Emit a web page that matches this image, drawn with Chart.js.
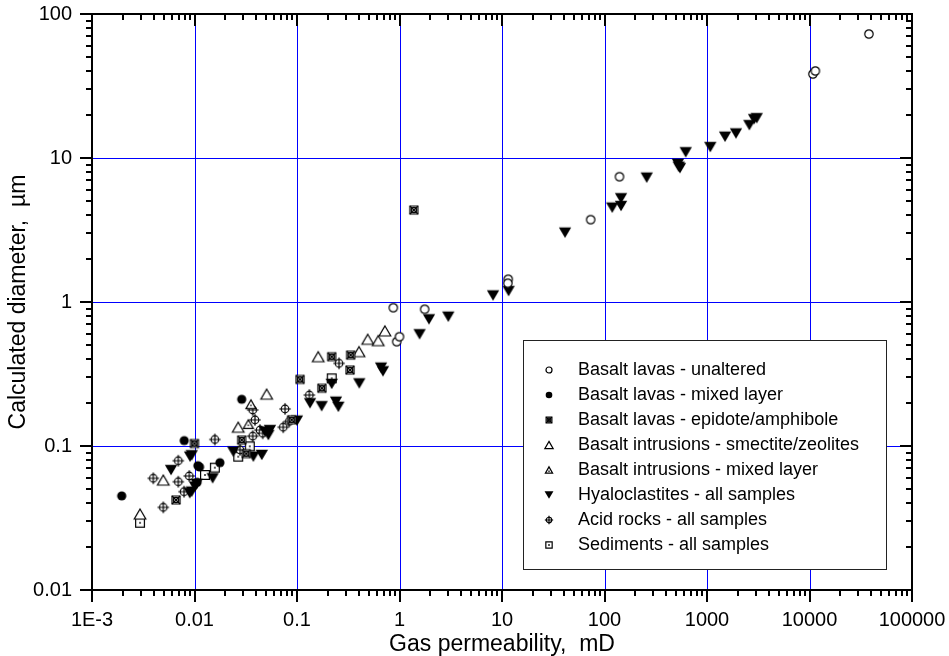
<!DOCTYPE html>
<html>
<head>
<meta charset="utf-8">
<script src="https://cdn.jsdelivr.net/npm/chart.js@4.4.0/dist/chart.umd.min.js"></script>
<style>
  html, body { margin: 0; padding: 0; background: #fff; }
  #wrap { width: 949px; height: 656px; }
</style>
</head>
<body>
<div id="wrap"><canvas id="chart"></canvas></div>
<script>
// series names (legend order)
const seriesNames = [
  "Basalt lavas - unaltered",
  "Basalt lavas - mixed layer",
  "Basalt lavas - epidote/amphibole",
  "Basalt intrusions - smectite/zeolites",
  "Basalt intrusions - mixed layer",
  "Hyaloclastites - all samples",
  "Acid rocks - all samples",
  "Sediments - all samples"
];

// data (x = gas permeability mD, y = calculated diameter µm)
const unalteredX = [0.87, 0.94, 1.0, 1.76, 11.5, 11.4, 73.3, 140, 10800, 11400, 38000];
const unalteredY = [0.913, 0.53, 0.574, 0.89, 1.44, 1.35, 3.73, 7.41, 38.3, 40.2, 72.6];

const mixedLavaX = [0.00195, 0.00794, 0.0108, 0.0112, 0.0106, 0.0177, 0.0289];
const mixedLavaY = [0.045, 0.109, 0.073, 0.0715, 0.056, 0.0766, 0.211];

const epidoteX = [0.0066, 0.01, 0.0289, 0.032, 0.0887, 0.107, 0.175, 0.218, 0.329, 0.334, 1.38];
const epidoteY = [0.0422, 0.104, 0.110, 0.0885, 0.152, 0.29, 0.252, 0.417, 0.337, 0.428, 4.35];

const smectiteX = [0.00294, 0.00496, 0.0267, 0.0506, 0.161, 0.403, 0.49, 0.62, 0.72];
const smectiteY = [0.0337, 0.058, 0.135, 0.229, 0.417, 0.452, 0.551, 0.539, 0.63];

const mixedIntrX = [0.0335, 0.0355];
const mixedIntrY = [0.142, 0.195];

const hyaloX = [0.0059, 0.00904, 0.0094, 0.0105, 0.0101, 0.0094, 0.009, 0.01503, 0.0239, 0.0375,
  0.0453, 0.0487, 0.0545, 0.0525, 0.1, 0.134, 0.174, 0.24, 0.253, 0.218, 0.405, 0.66, 0.69,
  1.57, 1.94, 2.99, 8.17, 11.6, 41.2, 119, 145, 145, 258, 520, 530, 545, 620, 1077, 1500,
  1918, 2588, 2875, 3054];
const hyaloY = [0.068, 0.0843, 0.0862, 0.0545, 0.0522, 0.0482, 0.047, 0.0597, 0.0913, 0.0843,
  0.0866, 0.126, 0.129, 0.119, 0.15, 0.198, 0.189, 0.203, 0.187, 0.27, 0.272, 0.35, 0.33,
  0.597, 0.758, 0.79, 1.11, 1.19, 3.03, 4.52, 4.64, 5.25, 7.3, 9.1, 8.7, 8.5, 10.96, 11.9, 14.06,
  14.8, 16.9, 18.6, 18.9];

const acidX = [0.00396, 0.00496, 0.00695, 0.00695, 0.0079, 0.0089, 0.0158, 0.0278, 0.037, 0.037,
  0.0389, 0.0435, 0.0463, 0.0734, 0.0764, 0.084, 0.132, 0.257];
const acidY = [0.0597, 0.0375, 0.079, 0.0565, 0.0482, 0.0619, 0.111, 0.094, 0.178, 0.117,
  0.152, 0.129, 0.1225, 0.135, 0.181, 0.148, 0.226, 0.375];

const sedimentX = [0.00294, 0.01266, 0.0158, 0.0267, 0.0346, 0.218];
const sedimentY = [0.0293, 0.0629, 0.0707, 0.0843, 0.0995, 0.295];

// tick labels
const xTickValues = [0.001, 0.01, 0.1, 1, 10, 100, 1000, 10000, 100000];
const xTickLabels = ["1E-3", "0.01", "0.1", "1", "10", "100", "1000", "10000", "100000"];
const yTickValues = [0.01, 0.1, 1, 10, 100];
const yTickLabels = ["0.01", "0.1", "1", "10", "100"];

const FONT = "'Liberation Sans', Arial, sans-serif";

// ---- marker pictures ----
function makeMarker(kind, s) {
  const size = Math.ceil(16 * s) + 2;
  const c = document.createElement("canvas");
  c.width = size; c.height = size;
  const g = c.getContext("2d");
  const m = size / 2;
  g.strokeStyle = "#000";
  g.fillStyle = "#000";
  g.lineWidth = 1.2;
  g.beginPath();
  if (kind == "circleOpen") {
    g.arc(m, m, 4.2 * s, 0, Math.PI * 2);
    g.fillStyle = "#fff"; g.fill(); g.stroke();
  } else if (kind == "circleFilled") {
    g.arc(m, m, 4.6 * s, 0, Math.PI * 2);
    g.fill();
  } else if (kind == "epidote") {
    const h = 4 * s;
    g.fillStyle = "#fff";
    g.rect(m - h, m - h, 2 * h, 2 * h); g.fill(); g.stroke();
    g.beginPath();
    g.moveTo(m - h, m - h); g.lineTo(m + h, m + h);
    g.moveTo(m + h, m - h); g.lineTo(m - h, m + h);
    g.stroke();
    g.beginPath(); g.arc(m, m, 2.6 * s, 0, Math.PI * 2); g.stroke();
  } else if (kind == "triOpen" || kind == "triMixed") {
    const w = (kind == "triOpen" ? 5.8 : 5.0) * s;
    const hh = (kind == "triOpen" ? 5.0 : 4.4) * s;
    g.moveTo(m, m - hh); g.lineTo(m + w, m + hh); g.lineTo(m - w, m + hh); g.closePath();
    g.fillStyle = "#fff"; g.fill(); g.stroke();
    if (kind == "triMixed") {
      g.fillStyle = "#000";
      g.fillRect(m - 0.7, m + 0.5, 1.4, 1.4);
    }
  } else if (kind == "triDown") {
    const w = 6.2 * s, hh = 5.2 * s;
    g.moveTo(m - w, m - hh); g.lineTo(m + w, m - hh); g.lineTo(m, m + hh); g.closePath();
    g.fill();
  } else if (kind == "acid") {
    const r = 3.8 * s, l = 5.8 * s;
    g.arc(m, m, r, 0, Math.PI * 2);
    g.fillStyle = "#fff"; g.fill(); g.stroke();
    g.beginPath();
    g.moveTo(m - l, m); g.lineTo(m + l, m);
    g.moveTo(m, m - l); g.lineTo(m, m + l);
    g.stroke();
  } else if (kind == "sediment") {
    const h = 4.4 * s;
    g.rect(m - h, m - h, 2 * h, 2 * h);
    g.fillStyle = "#fff"; g.fill(); g.stroke();
    g.fillStyle = "#000";
    g.fillRect(m - 0.8, m - 0.8, 1.6, 1.6);
  }
  return c;
}

const markerKinds = ["circleOpen", "circleFilled", "epidote", "triOpen", "triMixed", "triDown", "acid", "sediment"];
const seriesX = [unalteredX, mixedLavaX, epidoteX, smectiteX, mixedIntrX, hyaloX, acidX, sedimentX];
const seriesY = [unalteredY, mixedLavaY, epidoteY, smectiteY, mixedIntrY, hyaloY, acidY, sedimentY];

const datasets = seriesNames.map((name, k) => ({
  label: name,
  data: seriesX[k].map((x, i) => ({ x: x, y: seriesY[k][i] })),
  pointStyle: makeMarker(markerKinds[k], 1),
  legendMarker: makeMarker(markerKinds[k], 0.72),
  pointRadius: 5,
  showLine: false
}));

// every tick 1..9 x 10^n between min and max
function logTicks(min, max) {
  const out = [];
  for (let e = Math.round(Math.log10(min)); e < Math.round(Math.log10(max)); e++) {
    for (let d = 1; d < 10; d++) out.push(d * Math.pow(10, e));
  }
  out.push(max);
  return out;
}
function isMajor(v) {
  const l = Math.log10(v);
  return Math.abs(l - Math.round(l)) < 1e-6;
}
function labelFor(v, values, labels) {
  const i = values.findIndex(t => Math.abs(t - v) / t < 1e-6);
  return i >= 0 ? labels[i] : "";
}

// blue grid lines at the decades, under the points
const gridPlugin = {
  id: "decadeGrid",
  beforeDatasetsDraw(chart) {
    const ctx = chart.ctx;
    const a = chart.chartArea;
    const xs = chart.scales.x, ys = chart.scales.y;
    ctx.save();
    ctx.strokeStyle = "#0000ff";
    ctx.lineWidth = 1;
    ctx.beginPath();
    xTickValues.slice(1, -1).forEach(v => {
      const px = Math.round(xs.getPixelForValue(v)) + 0.5;
      ctx.moveTo(px, a.top); ctx.lineTo(px, a.bottom);
    });
    yTickValues.slice(1, -1).forEach(v => {
      const py = Math.round(ys.getPixelForValue(v)) + 0.5;
      ctx.moveTo(a.left, py); ctx.lineTo(a.right, py);
    });
    ctx.stroke();
    ctx.restore();
  }
};

// frame, tick marks on all four sides and the legend box
const framePlugin = {
  id: "frame",
  afterDraw(chart) {
    const ctx = chart.ctx;
    const a = chart.chartArea;
    const xs = chart.scales.x, ys = chart.scales.y;
    ctx.save();
    ctx.strokeStyle = "#000";
    ctx.lineWidth = 2;
    ctx.beginPath();
    xs.ticks.forEach(t => {
      const px = Math.round(xs.getPixelForValue(t.value));
      const len = isMajor(t.value) ? 12 : 6;
      ctx.moveTo(px, a.bottom); ctx.lineTo(px, a.bottom + len);
      ctx.moveTo(px, a.top); ctx.lineTo(px, a.top + len);
    });
    ys.ticks.forEach(t => {
      const py = Math.round(ys.getPixelForValue(t.value));
      const len = isMajor(t.value) ? 12 : 6;
      ctx.moveTo(a.left, py); ctx.lineTo(a.left - len, py);
      ctx.moveTo(a.right, py); ctx.lineTo(a.right - len, py);
    });
    ctx.stroke();
    ctx.strokeRect(a.left, a.top, a.right - a.left, a.bottom - a.top);

    // legend
    const lx = 523, ly = 340, lw = 363, lh = 229;
    ctx.fillStyle = "#fff";
    ctx.fillRect(lx, ly, lw, lh);
    ctx.lineWidth = 1;
    ctx.strokeStyle = "#222";
    ctx.strokeRect(lx + 0.5, ly + 0.5, lw, lh);
    ctx.font = "18px " + FONT;
    ctx.fillStyle = "#000";
    ctx.textBaseline = "middle";
    chart.data.datasets.forEach((ds, i) => {
      const y = ly + 30 + i * 25;
      const m = ds.legendMarker;
      ctx.drawImage(m, 549 - m.width / 2, y - m.height / 2);
      ctx.fillText(ds.label, 578, y);
    });
    ctx.restore();
  }
};

new Chart(document.getElementById("chart"), {
  type: "scatter",
  data: { datasets: datasets },
  options: {
    responsive: true,
    maintainAspectRatio: false,
    devicePixelRatio: 1,
    animation: false,
    events: [],
    layout: { padding: { top: 14, right: 37, left: 0, bottom: 0 } },
    plugins: { legend: { display: false }, tooltip: { enabled: false } },
    scales: {
      x: {
        type: "logarithmic",
        min: 0.001,
        max: 100000,
        afterFit: s => { s.height = 66; s.paddingLeft = 0; s.paddingRight = 0; },
        afterBuildTicks: s => { s.ticks = logTicks(0.001, 100000).map(v => ({ value: v })); },
        border: { display: false },
        grid: { display: false, drawTicks: false },
        ticks: {
          autoSkip: false,
          maxRotation: 0,
          padding: 18,
          color: "#000",
          font: { family: FONT, size: 20 },
          callback: v => labelFor(v, xTickValues, xTickLabels)
        },
        title: {
          display: true,
          text: "Gas permeability,  mD",
          color: "#000",
          font: { family: FONT, size: 23, lineHeight: 1 },
          padding: 0
        }
      },
      y: {
        type: "logarithmic",
        min: 0.01,
        max: 100,
        afterFit: s => { s.width = 92; s.paddingTop = 0; s.paddingBottom = 0; },
        afterBuildTicks: s => { s.ticks = logTicks(0.01, 100).map(v => ({ value: v })); },
        border: { display: false },
        grid: { display: false, drawTicks: false },
        ticks: {
          autoSkip: false,
          padding: 20,
          color: "#000",
          font: { family: FONT, size: 20 },
          callback: v => labelFor(v, yTickValues, yTickLabels)
        },
        title: {
          display: true,
          text: "Calculated diameter,  µm",
          color: "#000",
          font: { family: FONT, size: 23, lineHeight: 1 },
          padding: { top: 7, bottom: 0 }
        }
      }
    }
  },
  plugins: [gridPlugin, framePlugin]
});
</script>
</body>
</html>
